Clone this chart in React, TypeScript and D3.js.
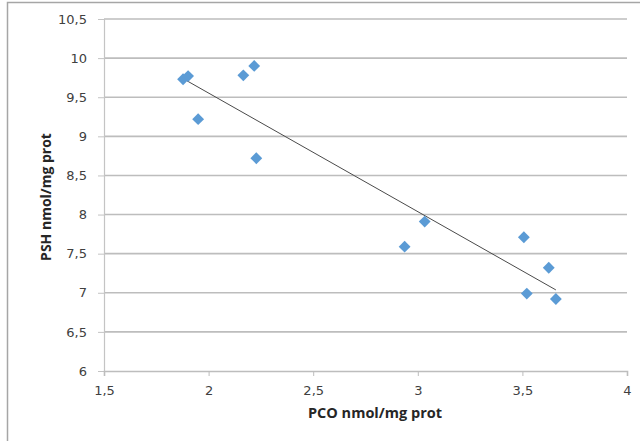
import React, { useEffect, useRef } from 'react';
import * as d3 from 'd3';

// PCO (x) vs PSH (y), nmol/mg prot
const pco = [1.878, 1.902, 1.95, 2.166, 2.218, 2.228, 2.937, 3.033, 3.507, 3.521, 3.626, 3.66];
const psh = [9.73, 9.77, 9.22, 9.78, 9.9, 8.72, 7.59, 7.91, 7.71, 6.99, 7.32, 6.92];
const xTicks = [1.5, 2, 2.5, 3, 3.5, 4];
const yTicks = [6, 6.5, 7, 7.5, 8, 8.5, 9, 9.5, 10, 10.5];

const fmt = (v: number) => String(v).replace('.', ',');

const App = () => {
  const ref = useRef<SVGSVGElement | null>(null);

  useEffect(() => {
    const width = 640;
    const height = 441;
    const margin = { top: 19, right: 13, bottom: 70, left: 104 };

    const svg = d3.select(ref.current);
    svg.selectAll('*').remove();
    svg.attr('width', width).attr('height', height);

    const x = d3.scaleLinear().domain([1.5, 4]).range([margin.left, width - margin.right]);
    const y = d3.scaleLinear().domain([6, 10.5]).range([height - margin.bottom, margin.top]);

    // outer frame (left + top)
    svg.append('path')
      .attr('d', `M7.5,441 V2.5 H640`)
      .attr('fill', 'none')
      .attr('stroke', '#a6a6a6')
      .attr('stroke-width', 1.5);

    // horizontal gridlines
    svg.append('g')
      .selectAll('line')
      .data(yTicks.filter(d => d !== 6))
      .enter().append('line')
      .attr('x1', x(1.5))
      .attr('x2', x(4))
      .attr('y1', d => y(d))
      .attr('y2', d => y(d))
      .attr('stroke', '#bdbdbd')
      .attr('stroke-width', 1.6);

    const tickFont = (sel: any) => sel
      .attr('fill', '#404040')
      .style('font-family', 'DejaVu Sans, sans-serif')
      .style('font-size', '13px');

    // y axis
    const yAxis = svg.append('g')
      .attr('transform', `translate(${x(1.5)},0)`)
      .call(d3.axisLeft(y).tickValues(yTicks).tickFormat(d => fmt(+d)).tickSize(6).tickPadding(11));
    yAxis.select('.domain').attr('stroke', '#c4c4c4').attr('stroke-width', 1.2);
    yAxis.selectAll('.tick line').attr('stroke', '#c4c4c4');
    tickFont(yAxis.selectAll('.tick text'));

    // x axis
    const xAxis = svg.append('g')
      .attr('transform', `translate(0,${y(6)})`)
      .call(d3.axisBottom(x).tickValues(xTicks).tickFormat(d => fmt(+d)).tickSize(5).tickPadding(10));
    xAxis.select('.domain').attr('stroke', '#bdbdbd').attr('stroke-width', 1.6);
    xAxis.selectAll('.tick line').attr('stroke', '#bdbdbd');
    tickFont(xAxis.selectAll('.tick text'));

    // linear trendline over data range
    const mx = d3.mean(pco)!;
    const my = d3.mean(psh)!;
    const slope = d3.sum(pco, (v, i) => (v - mx) * (psh[i] - my)) / d3.sum(pco, v => (v - mx) ** 2);
    const icpt = my - slope * mx;
    const [x0, x1] = d3.extent(pco) as [number, number];
    svg.append('line')
      .attr('x1', x(x0))
      .attr('y1', y(icpt + slope * x0))
      .attr('x2', x(x1))
      .attr('y2', y(icpt + slope * x1))
      .attr('stroke', '#4a4a4a')
      .attr('stroke-width', 1);

    // diamonds
    const diamond = d3.symbol().type(d3.symbolSquare).size(70);
    svg.append('g')
      .selectAll('path')
      .data(pco.map((v, i) => [v, psh[i]]))
      .enter().append('path')
      .attr('d', diamond)
      .attr('transform', d => `translate(${x(d[0])},${y(d[1])}) rotate(45)`)
      .attr('fill', '#5b9bd5');

    // axis titles
    svg.append('text')
      .attr('x', 375)
      .attr('y', 418)
      .attr('text-anchor', 'middle')
      .attr('fill', '#262626')
      .style('font-family', 'Open Sans, sans-serif')
      .style('font-size', '14.5px')
      .style('font-weight', 'bold')
      .text('PCO nmol/mg prot');

    svg.append('text')
      .attr('transform', `translate(51,197) rotate(-90)`)
      .attr('text-anchor', 'middle')
      .attr('fill', '#262626')
      .style('font-family', 'Open Sans, sans-serif')
      .style('font-size', '14px')
      .style('font-weight', 'bold')
      .text('PSH nmol/mg prot');
  }, []);

  return (
    <div style={{ position: 'absolute', left: 0, top: 0, width: 640, height: 441, background: '#fff' }}>
      <svg ref={ref}></svg>
    </div>
  );
};

export default App;
